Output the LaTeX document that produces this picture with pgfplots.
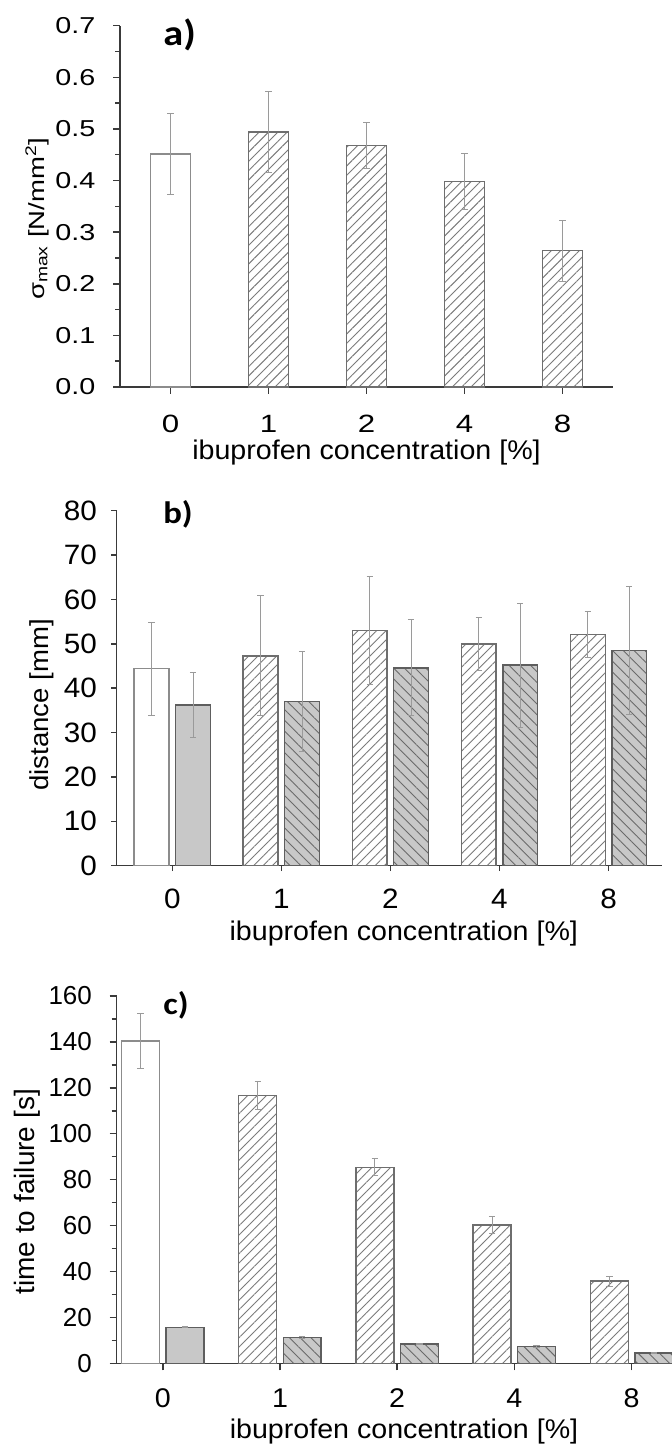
\documentclass[border=0pt]{standalone}
\usepackage{fontspec}
\setmainfont{Liberation Sans}
\newfontfamily\fb{Liberation Sans}[FakeStretch=1.25]
\newfontfamily\fc{Liberation Sans}[FakeStretch=1.06]
\newfontfamily\fp{Carlito}[FakeStretch=1.12]
\usepackage{pgfplots}
\pgfplotsset{compat=1.18}
\usetikzlibrary{patterns.meta}

\definecolor{axc}{HTML}{3A3A3A}
\definecolor{wline}{HTML}{8C8C8C}
\definecolor{hline}{HTML}{6E6E6E}
\definecolor{hpat}{HTML}{7A7A7A}
\definecolor{gfill}{HTML}{C8C8C8}
\definecolor{gline}{HTML}{5E5E5E}
\definecolor{gpat}{HTML}{6A6A6A}
\definecolor{errc}{HTML}{9A9A9A}

\pgfplotsset{
  common/.style={
    scale only axis,
    anchor=south west,
    axis x line*=bottom, axis y line*=left,
    axis line style={axc, line width=0.75pt},
    tick style={axc, line width=0.75pt},
    tick align=outside,
    xtick={0,1,2,3,4}, xticklabels={0,1,2,4,8},
    /pgf/number format/assume math mode=true,
    ymin=0,
    clip=false,
    xlabel={ibuprofen concentration [\%]},
  },
  whitebar/.style={ybar, draw=wline, fill=white, line width=0.75pt},
  hatchA/.style={ybar, draw=hline, line width=0.75pt,
    pattern={Lines[angle=45,distance=3.3pt,line width=0.45pt]}, pattern color=hpat},
  graybar/.style={ybar, draw=gline, fill=gfill, line width=0.75pt},
  hatchB/.style={ybar, draw=gline, fill=gfill, line width=0.75pt,
    postaction={pattern={Lines[angle=-45,distance=3.8pt,line width=0.45pt]}, pattern color=gpat}},
  ebars/.style={forget plot, draw=none, mark=none,
    error bars/y dir=both, error bars/y explicit,
    error bars/error bar style={draw=errc, line width=0.5pt},
    error bars/error mark options={draw=errc, line width=0.5pt, mark size=1.6pt, rotate=90}},
}

\begin{document}
\begin{tikzpicture}
\useasboundingbox (0,0) rectangle (336pt,723pt);

% ---------------- panel a ----------------
\begin{axis}[common,
  at={(60pt,529.5pt)}, width=246.5pt, height=180.65pt,
  xmin=-0.515, xmax=4.515, ymax=0.7,
  ytick={0,0.1,0.2,0.3,0.4,0.5,0.6,0.7}, minor y tick num=1,
  major tick length=3.5pt, minor tick length=2.5pt,
  /pgf/number format/fixed, /pgf/number format/fixed zerofill, /pgf/number format/precision=1,
  yticklabel style={font=\fontsize{11.5}{13}\fb, anchor=east, inner sep=0pt, xshift=-8.65pt},
  xticklabel style={font=\fontsize{12.5}{14}\fb, anchor=center, inner sep=0pt, yshift=-15pt},
  xlabel style={font=\fontsize{13.5}{16}\fc, at={(axis description cs:0.5,-0.1827)}, anchor=center},
  ylabel={σ\textsubscript{max} [N/mm\textsuperscript{2}]},
  ylabel style={font=\fontsize{11}{13}\fb, at={(axis description cs:-0.1684,0.466)}, anchor=center},
]
\addplot[whitebar, bar width=0.406, bar shift=0] coordinates {(0,0.451)};
\addplot[hatchA, bar width=0.406, bar shift=0] coordinates {(1,0.494) (2,0.468) (3,0.398) (4,0.264)};
\addplot[ebars] coordinates {
  (0,0.451) +- (0,0.079) (1,0.494) +- (0,0.078) (2,0.468) +- (0,0.044)
  (3,0.398) +- (0,0.054) (4,0.264) +- (0,0.059)};
\end{axis}

% ---------------- panel b ----------------
\begin{axis}[common,
  at={(58.35pt,290.15pt)}, width=272.65pt, height=177.5pt,
  xmin=-0.51, xmax=4.49, ymax=80,
  ytick={0,10,20,30,40,50,60,70,80},
  major tick length=2.75pt,
  yticklabel style={font=\fontsize{14}{16}\fc, anchor=east, inner sep=0pt, xshift=-6.9pt},
  xticklabel style={font=\fontsize{14}{16}\fc, anchor=center, inner sep=0pt, yshift=-13.8pt},
  xlabel style={font=\fontsize{13.5}{16}\fc, at={(axis description cs:0.5265,-0.1904)}, anchor=center},
  ylabel={distance [mm]},
  ylabel style={font=\fontsize{13}{15}\fc, at={(axis description cs:-0.1375,0.453)}, anchor=center},
]
\addplot[whitebar, bar width=0.32, bar shift=-0.19] coordinates {(0,44.4)};
\addplot[hatchA, bar width=0.32, bar shift=-0.19] coordinates {(1,47.3) (2,53.0) (3,50.0) (4,52.1)};
\addplot[graybar, bar width=0.32, bar shift=0.19] coordinates {(0,36.2)};
\addplot[hatchB, bar width=0.32, bar shift=0.19] coordinates {(1,37.0) (2,44.6) (3,45.2) (4,48.5)};
\addplot[ebars] coordinates {
  (-0.19,44.4) +- (0,10.5) (0.81,47.3) +- (0,13.5) (1.81,53.0) +- (0,12.1)
  (2.81,50.0) +- (0,6.0) (3.81,52.1) +- (0,5.2)};
\addplot[ebars] coordinates {
  (0.19,36.2) +- (0,7.4) (1.19,37.0) +- (0,11.2) (2.19,44.6) +- (0,10.8)
  (3.19,45.2) +- (0,14.0) (4.19,48.5) +- (0,14.5)};
\end{axis}

% ---------------- panel c ----------------
\begin{axis}[common,
  at={(58.35pt,41.35pt)}, width=286.75pt, height=183.65pt,
  xmin=-0.393, xmax=4.5, ymax=160,
  ytick={0,20,40,60,80,100,120,140,160}, minor y tick num=1,
  major tick length=3.5pt, minor tick length=2.5pt,
  yticklabel style={font=\fontsize{13}{15}\selectfont, anchor=east, inner sep=0pt, xshift=-8.7pt},
  xticklabel style={font=\fontsize{13.5}{16}\fc, anchor=center, inner sep=0pt, yshift=-13.75pt},
  xlabel style={font=\fontsize{13.5}{16}\fc, at={(axis description cs:0.501,-0.1851)}, anchor=center},
  ylabel={time to failure [s]},
  ylabel style={font=\fontsize{14}{16}\selectfont, at={(axis description cs:-0.1565,0.467)}, anchor=center},
]
\addplot[whitebar, bar width=0.324, bar shift=-0.19] coordinates {(0,140.5)};
\addplot[hatchA, bar width=0.324, bar shift=-0.19] coordinates {(1,116.6) (2,85.4) (3,60.2) (4,35.8)};
\addplot[graybar, bar width=0.324, bar shift=0.19] coordinates {(0,15.7)};
\addplot[hatchB, bar width=0.324, bar shift=0.19] coordinates {(1,11.2) (2,8.3) (3,7.4) (4,4.5)};
\addplot[ebars] coordinates {
  (-0.19,140.5) +- (0,12.0) (0.81,116.6) +- (0,6.0) (1.81,85.4) +- (0,3.6)
  (2.81,60.2) +- (0,3.8) (3.81,35.8) +- (0,2.2)};
\addplot[ebars] coordinates {
  (0.19,15.7) +- (0,0.3) (1.19,11.2) +- (0,0.3) (2.19,8.3) +- (0,0.3)
  (3.19,7.4) +- (0,0.3) (4.19,4.5) +- (0,0.3)};
\end{axis}

% panel letters
\node[font=\fontsize{18}{20}\fp\bfseries, inner sep=0pt] at (89.85pt,705.5pt) {a)};
\node[font=\fontsize{15.5}{18}\fp\bfseries, inner sep=0pt] at (89pt,466pt) {b)};
\node[font=\fontsize{15.5}{18}\fp\bfseries, inner sep=0pt] at (88pt,220.5pt) {c)};
\end{tikzpicture}
\end{document}
